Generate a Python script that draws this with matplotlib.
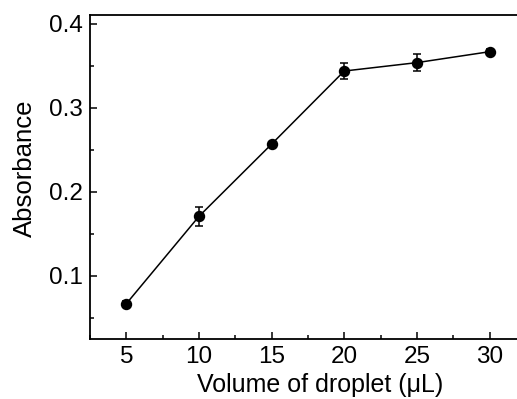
import matplotlib
matplotlib.use("Agg")
import matplotlib.pyplot as plt
from matplotlib.ticker import MultipleLocator

plt.rcParams["font.family"] = ["Liberation Sans", "DejaVu Sans"]

volume = [5, 10, 15, 20, 25, 30]
absorbance = [0.067, 0.171, 0.257, 0.344, 0.354, 0.367]
error = [0.003, 0.011, 0.003, 0.009, 0.010, 0.003]


def main():
    fig = plt.figure(figsize=(5.17, 3.99), dpi=100)
    ax = fig.add_axes([0.1741, 0.1504, 0.843, 0.812])

    ax.errorbar(volume, absorbance, yerr=error, color="black", marker="o",
                markersize=7.2, linewidth=1.1, elinewidth=1.1, capsize=3,
                capthick=1.1)

    ax.set_xlim(2.5, 32.5)
    ax.set_ylim(0.025, 0.4107)
    ax.xaxis.set_major_locator(MultipleLocator(5))
    ax.xaxis.set_minor_locator(MultipleLocator(2.5))
    ax.yaxis.set_minor_locator(MultipleLocator(0.05))
    ax.set_yticks([0.1, 0.2, 0.3, 0.4])
    ax.set_yticklabels(["0.1", "0.2", "0.3", "0.4"])

    ax.tick_params(which="both", direction="in", labelsize=17.5, width=1.1,
                   top=False, right=False)
    ax.tick_params(which="major", length=5)
    ax.tick_params(which="minor", length=3)
    ax.tick_params(axis="y", pad=5)
    ax.tick_params(axis="x", pad=5)
    for s in ax.spines.values():
        s.set_linewidth(1.3)

    ax.set_xlabel("Volume of droplet (\u03bcL)", fontsize=18)
    ax.set_ylabel("Absorbance", fontsize=18.5)
    # label centres, as axes fractions
    ax.xaxis.set_label_coords((320 - 90) / 436, -(399 - 339) / 324 + 0.005)
    ax.xaxis.label.set_va("bottom")
    ax.yaxis.set_label_coords(-(90 - 25) / 436, (339 - 168) / 324)
    ax.yaxis.label.set_va("center")

    fig.savefig("out.png", dpi=100)


if __name__ == "__main__":
    main()
